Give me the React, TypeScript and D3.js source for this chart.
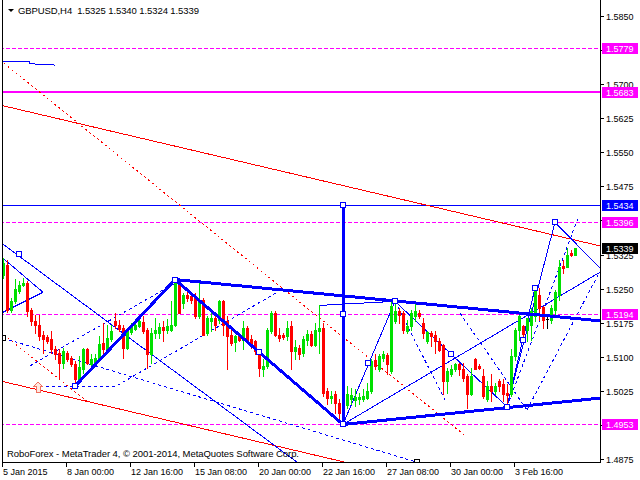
import React from "react";
import * as d3 from "d3";

// ---------- data ----------
const symbolTitle = "GBPUSD,H4  1.5325 1.5340 1.5324 1.5339";
const copyright = "RoboForex - MetaTrader 4, © 2001-2014, MetaQuotes Software Corp.";

const opens = [
  1.5281, 1.5303, 1.5204, 1.5222, 1.5244, 1.5259, 1.5262, 1.5202, 1.5178, 1.5171,
  1.5149, 1.5143, 1.5140, 1.5118, 1.5109, 1.5087, 1.5109, 1.5098, 1.5085, 1.5050,
  1.5072, 1.5116, 1.5085, 1.5087, 1.5095, 1.5131, 1.5117, 1.5139, 1.5178, 1.5171,
  1.5164, 1.5120, 1.5154, 1.5161, 1.5167, 1.5176, 1.5158, 1.5105, 1.5152, 1.5152,
  1.5166, 1.5160, 1.5160, 1.5171, 1.5259, 1.5219, 1.5235, 1.5233, 1.5230, 1.5189,
  1.5226, 1.5152, 1.5178, 1.5186, 1.5182, 1.5222, 1.5178, 1.5149, 1.5132, 1.5145,
  1.5138, 1.5164, 1.5139, 1.5134, 1.5112, 1.5072, 1.5079, 1.5156, 1.5197, 1.5149,
  1.5149, 1.5145, 1.5167, 1.5112, 1.5120, 1.5108, 1.5138, 1.5150, 1.5125, 1.5156,
  1.5164, 1.5024, 1.5009, 1.5017, 1.4999, 1.4977, 1.4993, 1.5006, 1.5004, 1.5006,
  1.5007, 1.5009, 1.5024, 1.5092, 1.5072, 1.5098, 1.5103, 1.5068, 1.5178, 1.5200,
  1.5197, 1.5156, 1.5167, 1.5189, 1.5197, 1.5175, 1.5134, 1.5152, 1.5149, 1.5134,
  1.5125, 1.5046, 1.5062, 1.5072, 1.5083, 1.5074, 1.5057, 1.5017, 1.5094, 1.5079,
  1.5057, 1.5006, 1.5035, 1.5024, 1.5046, 1.5039, 1.5020, 1.5017, 1.5101, 1.5160,
  1.5167, 1.5160, 1.5171, 1.5190, 1.5235, 1.5210, 1.5184, 1.5180, 1.5204, 1.5235,
  1.5300, 1.5297, 1.5328, 1.5325,
];
const highs = [
  1.5318, 1.5314, 1.5230, 1.5272, 1.5266, 1.5274, 1.5266, 1.5208, 1.5193, 1.5193,
  1.5156, 1.5149, 1.5156, 1.5123, 1.5116, 1.5120, 1.5112, 1.5101, 1.5090, 1.5101,
  1.5120, 1.5120, 1.5105, 1.5105, 1.5145, 1.5175, 1.5171, 1.5171, 1.5197, 1.5182,
  1.5171, 1.5164, 1.5175, 1.5182, 1.5186, 1.5189, 1.5164, 1.5164, 1.5186, 1.5175,
  1.5178, 1.5183, 1.5222, 1.5270, 1.5266, 1.5241, 1.5246, 1.5241, 1.5241, 1.5266,
  1.5230, 1.5189, 1.5197, 1.5189, 1.5226, 1.5226, 1.5189, 1.5160, 1.5149, 1.5153,
  1.5178, 1.5167, 1.5149, 1.5138, 1.5116, 1.5094, 1.5164, 1.5200, 1.5200, 1.5164,
  1.5153, 1.5178, 1.5178, 1.5138, 1.5127, 1.5145, 1.5160, 1.5156, 1.5175, 1.5213,
  1.5175, 1.5031, 1.5024, 1.5024, 1.5006, 1.4999, 1.5035, 1.5031, 1.5028, 1.5020,
  1.5028, 1.5042, 1.5094, 1.5105, 1.5105, 1.5112, 1.5109, 1.5222, 1.5222, 1.5208,
  1.5200, 1.5182, 1.5204, 1.5219, 1.5204, 1.5186, 1.5156, 1.5156, 1.5156, 1.5142,
  1.5129, 1.5075, 1.5081, 1.5087, 1.5087, 1.5087, 1.5061, 1.5075, 1.5098, 1.5083,
  1.5072, 1.5046, 1.5061, 1.5042, 1.5050, 1.5050, 1.5039, 1.5116, 1.5164, 1.5197,
  1.5171, 1.5186, 1.5208, 1.5255, 1.5252, 1.5212, 1.5193, 1.5215, 1.5248, 1.5314,
  1.5314, 1.5340, 1.5336, 1.5340,
];
const lows = [
  1.5274, 1.5199, 1.5199, 1.5219, 1.5240, 1.5255, 1.5189, 1.5171, 1.5153, 1.5138,
  1.5109, 1.5131, 1.5109, 1.5094, 1.5054, 1.5076, 1.5090, 1.5079, 1.5035, 1.5045,
  1.5065, 1.5083, 1.5076, 1.5083, 1.5094, 1.5109, 1.5112, 1.5134, 1.5164, 1.5156,
  1.5098, 1.5116, 1.5151, 1.5158, 1.5166, 1.5152, 1.5076, 1.5087, 1.5142, 1.5142,
  1.5134, 1.5152, 1.5156, 1.5167, 1.5197, 1.5208, 1.5222, 1.5219, 1.5186, 1.5186,
  1.5149, 1.5149, 1.5156, 1.5160, 1.5175, 1.5149, 1.5072, 1.5127, 1.5112, 1.5134,
  1.5116, 1.5134, 1.5120, 1.5105, 1.5057, 1.5057, 1.5076, 1.5152, 1.5145, 1.5134,
  1.5140, 1.5138, 1.5072, 1.5094, 1.5094, 1.5101, 1.5127, 1.5123, 1.5123, 1.5109,
  1.5013, 1.4995, 1.4999, 1.4977, 1.4958, 1.4951, 1.4988, 1.4995, 1.4991, 1.4995,
  1.5002, 1.5006, 1.5021, 1.5072, 1.5068, 1.5090, 1.5061, 1.5064, 1.5175, 1.5175,
  1.5152, 1.5152, 1.5160, 1.5178, 1.5186, 1.5142, 1.5131, 1.5123, 1.5109, 1.5112,
  1.5017, 1.5020, 1.5058, 1.5068, 1.5060, 1.5046, 1.4988, 1.5015, 1.5072, 1.5072,
  1.5009, 1.5002, 1.5002, 1.5017, 1.5024, 1.5002, 1.4991, 1.5013, 1.5092, 1.5138,
  1.5140, 1.5134, 1.5138, 1.5178, 1.5180, 1.5164, 1.5164, 1.5175, 1.5193, 1.5226,
  1.5285, 1.5297, 1.5321, 1.5324,
];
const closes = [
  1.5307, 1.5204, 1.5222, 1.5249, 1.5259, 1.5263, 1.5200, 1.5178, 1.5169, 1.5145,
  1.5140, 1.5135, 1.5116, 1.5105, 1.5087, 1.5112, 1.5094, 1.5085, 1.5050, 1.5078,
  1.5116, 1.5087, 1.5094, 1.5098, 1.5129, 1.5116, 1.5142, 1.5156, 1.5169, 1.5161,
  1.5120, 1.5158, 1.5166, 1.5171, 1.5178, 1.5156, 1.5105, 1.5152, 1.5160, 1.5166,
  1.5158, 1.5167, 1.5171, 1.5266, 1.5197, 1.5237, 1.5230, 1.5226, 1.5189, 1.5226,
  1.5149, 1.5186, 1.5186, 1.5171, 1.5222, 1.5171, 1.5145, 1.5131, 1.5145, 1.5138,
  1.5164, 1.5138, 1.5130, 1.5112, 1.5076, 1.5079, 1.5160, 1.5197, 1.5149, 1.5142,
  1.5144, 1.5164, 1.5112, 1.5122, 1.5105, 1.5139, 1.5150, 1.5125, 1.5158, 1.5164,
  1.5021, 1.5009, 1.5014, 1.4999, 1.4977, 1.4991, 1.5017, 1.5015, 1.5011, 1.5012,
  1.5013, 1.5024, 1.5090, 1.5079, 1.5101, 1.5107, 1.5083, 1.5211, 1.5200, 1.5193,
  1.5160, 1.5167, 1.5197, 1.5200, 1.5189, 1.5152, 1.5154, 1.5145, 1.5134, 1.5114,
  1.5046, 1.5068, 1.5072, 1.5083, 1.5072, 1.5054, 1.5017, 1.5057, 1.5074, 1.5076,
  1.5013, 1.5035, 1.5024, 1.5035, 1.5035, 1.5017, 1.5015, 1.5101, 1.5160, 1.5190,
  1.5150, 1.5186, 1.5200, 1.5250, 1.5207, 1.5182, 1.5184, 1.5208, 1.5242, 1.5298,
  1.5296, 1.5325, 1.5323, 1.5339,
];

const priceTicks = [1.4875, 1.495, 1.5025, 1.51, 1.5175, 1.525, 1.5325, 1.54, 1.5475, 1.555, 1.5625, 1.57, 1.5775, 1.585];
const timeTickIndex = [0, 16, 32, 48, 64, 80, 96, 112, 128];
const timeTickLabels = ["5 Jan 2015", "8 Jan 00:00", "12 Jan 16:00", "15 Jan 08:00", "20 Jan 00:00", "22 Jan 16:00", "27 Jan 08:00", "30 Jan 00:00", "3 Feb 16:00"];

// horizontal levels
const dashedLevels = [1.5779, 1.5396, 1.5194, 1.4953];
const solidMagentaLevel = 1.5683;
const blueLevel = 1.5434;
const lastPrice = 1.5339;

// analysis objects, points as [bar index, price]
const thickBlue = [
  [[18, 1.5035], [43, 1.5270]],
  [[43, 1.5270], [85, 1.4951]],
  [[43, 1.5270], [149.25, 1.5179]],
  [[85, 1.4951], [149.25, 1.5009]],
  [[85, 1.5434], [85, 1.4951]],
];
const thinBlue = [
  [[85, 1.4951], [98, 1.5222]],
  [[79, 1.5213], [98, 1.5222]],
  [[85, 1.4951], [149.25, 1.5286]],
  [[98, 1.5222], [126, 1.4990]],
  [[126, 1.4990], [138, 1.5396]],
  [[138, 1.5396], [149.25, 1.5295]],
  [[126, 1.4990], [133, 1.5251]],
  [[-0.5, 1.5351], [73.5, 1.4868]],
  [[0, 1.5317], [10, 1.5242]],
  [[10, 1.5242], [0, 1.5198]],
  [[0, 1.5749], [6.5, 1.5749], [6.5, 1.5745], [13, 1.5742]],
];
const dottedBlue = [
  [[9.25, 1.5035], [28.25, 1.5035], [68.5, 1.5242]],
  [[6.75, 1.5080], [43, 1.5262]],
  [[0, 1.5141], [103.5, 1.4868]],
  [[98, 1.5222], [110.5, 1.5005]],
  [[114.25, 1.5196], [131, 1.4983]],
  [[126, 1.4990], [143.75, 1.5405]],
  [[131, 1.4983], [148.75, 1.5280]],
];
const blueSquares = [
  [18, 1.5035], [43, 1.5270], [85, 1.5434], [85, 1.5194], [85, 1.4951], [64, 1.5110],
  [98, 1.5222], [91.3, 1.5086], [112, 1.5106], [126, 1.4990], [138, 1.5396],
  [130, 1.5137], [133, 1.5251], [4, 1.5326],
];
const blackSquares = [[0, 1.5141], [103.5, 1.4868]];
const redSolid = [
  [[-0.75, 1.5654], [149.25, 1.5344]],
  [[-0.75, 1.5047], [85.5, 1.4868]],
];
const redDotted = [
  [[-0.75, 1.5753], [116, 1.4923]],
  [[1.25, 1.5141], [21.25, 1.5000]],
];
const arrowMark = [8.75, 1.5033];

// ---------- chart ----------
const W = 640, H = 480;
const plotRight = 600, plotBottom = 462, plotLeft = 2;
const FONT = "'Liberation Sans', Arial, sans-serif";
const BLUE = "#0000ff", MAG = "#ff00ff", RED = "#ff0000", GREEN = "#00e000";

export default function App() {
  const x = d3.scaleLinear().domain([0, 143]).range([3, 575]);
  const y = d3.scaleLinear().domain([1.4875, 1.585]).range([459, 16]);
  const line = d3.line<number[]>().x((d) => x(d[0])).y((d) => y(d[1]));
  const ry = (p: number) => Math.round(y(p));

  const tagPrices = [...dashedLevels, solidMagentaLevel, blueLevel, lastPrice];
  // axis labels fully hidden behind a price tag are not drawn (as in the terminal)
  const visibleTicks = priceTicks.filter((p) => !tagPrices.some((t) => Math.abs(ry(t) - ry(p)) < 6));

  const candles = opens.map((o, i) => {
    const c = closes[i];
    const cx = Math.round(x(i));
    const top = ry(Math.max(o, c));
    const bot = ry(Math.min(o, c));
    const col = c > o ? GREEN : c < o ? RED : "#000000";
    return (
      <g key={i}>
        <rect x={cx} y={ry(highs[i])} width={1} height={Math.max(1, ry(lows[i]) - ry(highs[i]) + 1)} fill={col} />
        <rect x={cx - 1} y={top} width={3} height={Math.max(1, bot - top + 1)} fill={col} />
      </g>
    );
  });

  const tag = (p: number, bg: string, key: string) => (
    <g key={key}>
      <rect x={602} y={ry(p) - 5} width={36} height={11} fill={bg} />
      <text x={606} y={ry(p) + 4} fill="#ffffff" fontSize={9} fontFamily={FONT}>{p.toFixed(4)}</text>
    </g>
  );

  const [ax, ay] = arrowMark;
  const axp = x(ax), ayp = y(ay);

  return (
    <svg width={W} height={H} style={{ position: "fixed", left: 0, top: 0, background: "#ffffff" }}>
      <defs>
        <clipPath id="plot">
          <rect x={plotLeft + 1} y={0} width={plotRight - plotLeft - 1} height={plotBottom} />
        </clipPath>
      </defs>
      <rect x={0} y={0} width={W} height={H} fill="#ffffff" />

      <g clipPath="url(#plot)" shapeRendering="crispEdges">
        {dashedLevels.map((p) => (
          <line key={p} x1={0} x2={plotRight} y1={ry(p) + 0.5} y2={ry(p) + 0.5} stroke={MAG} strokeDasharray="4,2" />
        ))}
        <line x1={0} x2={plotRight} y1={ry(solidMagentaLevel)} y2={ry(solidMagentaLevel)} stroke={MAG} strokeWidth={2} />
        <line x1={0} x2={plotRight} y1={ry(blueLevel) + 0.5} y2={ry(blueLevel) + 0.5} stroke={BLUE} />

        {redSolid.map((s, i) => <path key={"rs" + i} d={line(s as any)!} fill="none" stroke={RED} />)}
        {redDotted.map((s, i) => <path key={"rd" + i} d={line(s as any)!} fill="none" stroke={RED} strokeDasharray="2,3" />)}
        {dottedBlue.map((s, i) => <path key={"db" + i} d={line(s as any)!} fill="none" stroke={BLUE} strokeDasharray="3,3" />)}
        {thinBlue.map((s, i) => <path key={"tb" + i} d={line(s as any)!} fill="none" stroke={BLUE} />)}

        {candles}

        {thickBlue.map((s, i) => <path key={"kb" + i} d={line(s as any)!} fill="none" stroke={BLUE} strokeWidth={3} />)}

        {blueSquares.map((s, i) => (
          <rect key={"sq" + i} x={Math.round(x(s[0])) - 2.5} y={ry(s[1]) - 2.5} width={5} height={5} fill="#ffffff" stroke={BLUE} />
        ))}
        {blackSquares.map((s, i) => (
          <rect key={"bs" + i} x={Math.round(x(s[0])) - 2.5} y={ry(s[1]) - 2.5} width={5} height={5} fill="#ffffff" stroke="#000000" />
        ))}
        <path
          d={`M${axp},${ayp - 5} L${axp + 4},${ayp - 1} L${axp + 2},${ayp - 1} L${axp + 2},${ayp + 5} L${axp - 2},${ayp + 5} L${axp - 2},${ayp - 1} L${axp - 4},${ayp - 1} Z`}
          fill="#ffe8e0" stroke="#f07060"
        />
      </g>

      {/* frame */}
      <g shapeRendering="crispEdges" stroke="#000000">
        <line x1={plotLeft + 0.5} x2={plotLeft + 0.5} y1={0} y2={plotBottom + 1} />
        <line x1={plotLeft} x2={plotRight + 1} y1={plotBottom + 0.5} y2={plotBottom + 0.5} />
        <line x1={plotRight + 0.5} x2={plotRight + 0.5} y1={0} y2={plotBottom + 1} />
      </g>

      {/* price axis */}
      {priceTicks.map((p) => (
        <line key={"pt" + p} x1={601} x2={604} y1={ry(p) + 0.5} y2={ry(p) + 0.5} stroke="#000" shapeRendering="crispEdges" />
      ))}
      {visibleTicks.map((p) => (
        <text key={"pl" + p} x={606} y={ry(p) + 3.5} fontSize={9} fontFamily={FONT} fill="#000">{p.toFixed(4)}</text>
      ))}
      {dashedLevels.map((p) => tag(p, MAG, "t" + p))}
      {tag(solidMagentaLevel, MAG, "tm")}
      {tag(blueLevel, BLUE, "tb")}
      {tag(lastPrice, "#000000", "tl")}

      {/* time axis */}
      {timeTickIndex.map((t, i) => (
        <g key={t}>
          <line x1={Math.round(x(t)) - 0.5} x2={Math.round(x(t)) - 0.5} y1={463} y2={467} stroke="#000" shapeRendering="crispEdges" />
          <text x={Math.round(x(t))} y={475} fontSize={9} fontFamily={FONT} fill="#000">{timeTickLabels[i]}</text>
        </g>
      ))}

      {/* title */}
      <path d="M8,9 L14,9 L11,12 Z" fill="#000" />
      <text x={18} y={14} fontSize={9.5} fontFamily={FONT} fill="#000" style={{ whiteSpace: "pre" }} textLength={181} lengthAdjust="spacing">
        {symbolTitle}
      </text>
      <text x={7} y={457} fontSize={9.5} fontFamily={FONT} fill="#000" textLength={292} lengthAdjust="spacing">
        {copyright}
      </text>
    </svg>
  );
}
